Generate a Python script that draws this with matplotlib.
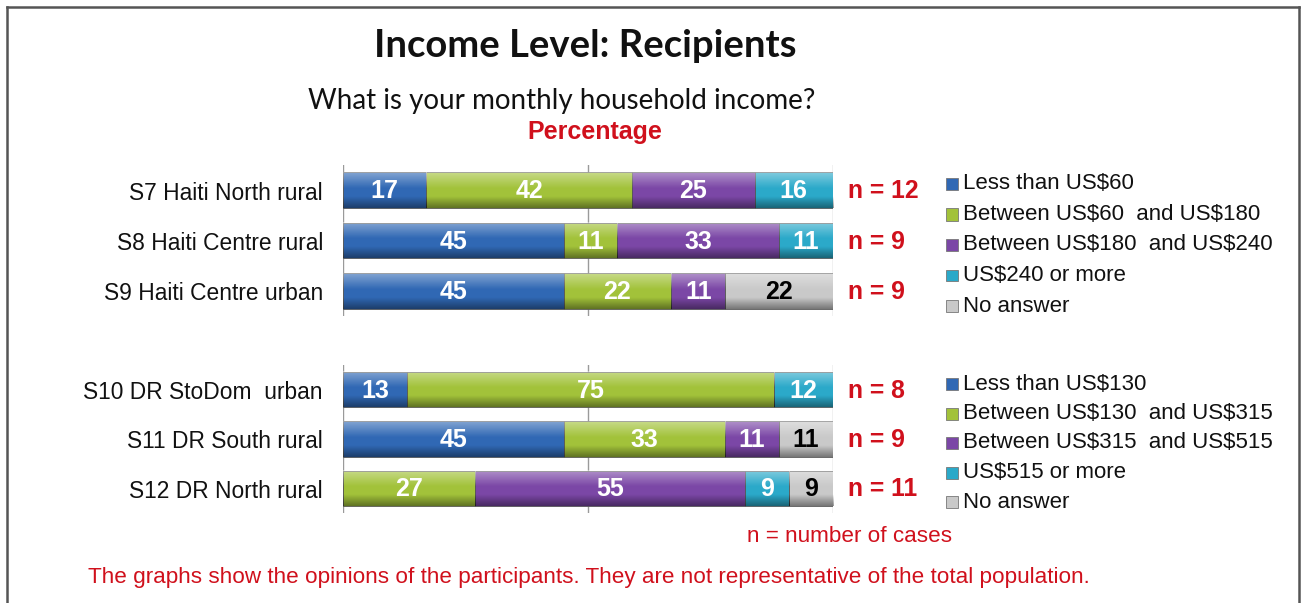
import matplotlib
matplotlib.use("Agg")
import matplotlib.pyplot as plt
import numpy as np
from matplotlib.patches import Rectangle
from matplotlib.lines import Line2D

# ---------------- data ----------------
haiti_sites = ["S7 Haiti North rural", "S8 Haiti Centre rural", "S9 Haiti Centre urban"]
haiti_n = [12, 9, 9]
haiti_lt60 = [17, 45, 45]
haiti_60_180 = [42, 11, 22]
haiti_180_240 = [25, 33, 11]
haiti_240_plus = [16, 11, 0]
haiti_no_answer = [0, 0, 22]
haiti_labels = ["Less than US$60", "Between US$60  and US$180",
                "Between US$180  and US$240", "US$240 or more", "No answer"]

dr_sites = ["S10 DR StoDom  urban", "S11 DR South rural", "S12 DR North rural"]
dr_n = [8, 9, 11]
dr_lt130 = [13, 45, 0]
dr_130_315 = [75, 33, 27]
dr_315_515 = [0, 11, 55]
dr_515_plus = [12, 0, 9]
dr_no_answer = [0, 11, 9]
dr_labels = ["Less than US$130", "Between US$130  and US$315",
             "Between US$315  and US$515", "US$515 or more", "No answer"]

# ---------------- style ----------------
colors = ["#3068B4", "#A2C23A", "#7B47A6", "#2BA9C9", "#C9C9C9"]
label_colors = ["white", "white", "white", "white", "black"]
red = "#D0101C"
W, H = 1303, 603
DPI = 100

fig = plt.figure(figsize=(W / DPI, H / DPI), dpi=DPI)
fig.patch.set_facecolor("white")


def fx(px):
    return px / W


def fy(py):
    return 1 - py / H


# frame around the slide
frame = dict(color="#555555", lw=1.8, transform=fig.transFigure)
fig.add_artist(Line2D([fx(7), fx(7)], [fy(7), fy(610)], **frame))
fig.add_artist(Line2D([fx(7), fx(1299)], [fy(7), fy(7)], **frame))
fig.add_artist(Line2D([fx(1299), fx(1299)], [fy(7), fy(610)], **frame))

# titles
fig.text(fx(585), fy(46), "Income Level: Recipients", ha="center", va="center",
         fontsize=27.5, fontweight="bold", family="Lato", color="#111111")
fig.text(fx(562), fy(101), "What is your monthly household income?", ha="center",
         va="center", fontsize=20, family="Lato", color="#111111")
fig.text(fx(595), fy(132), "Percentage", ha="center", va="center",
         fontsize=18, fontweight="bold", family="Liberation Sans", color=red)


def shade(ax, left, width, y, h):
    """Glossy bevel: light band on top, darker band at the bottom."""
    grad = np.zeros((40, 2, 4))
    t = np.linspace(0, 1, 40)
    top = np.clip(1 - t / 0.45, 0, 1) * 0.40
    bot = np.clip((t - 0.68) / 0.32, 0, 1) * 0.40
    grad[:, :, 0] = np.where(top[:, None] > 0, 1.0, 0.0)
    grad[:, :, 1] = grad[:, :, 0]
    grad[:, :, 2] = grad[:, :, 0]
    grad[:, :, 3] = (top + bot)[:, None]
    ax.imshow(grad, extent=(left, left + width, y + h / 2, y - h / 2),
              aspect="auto", interpolation="bilinear", zorder=3)


def draw_group(top_px, bot_px, sites, series, ns, labels, legend_top, legend_step):
    ax = fig.add_axes([fx(343), fy(bot_px), fx(833) - fx(343), fy(top_px) - fy(bot_px)])
    nrows = len(sites)
    ax.set_xlim(0, 100)
    ax.set_ylim(nrows - 0.5, -0.5)
    ax.axis("off")
    ax.set_autoscale_on(False)
    # vertical guides
    for xv, c in [(0, "#9A9A9A"), (50, "#9A9A9A"), (100, "#BBBBBB")]:
        ax.axvline(xv, color=c, lw=1.0, zorder=0)
    h = 0.71
    y = np.arange(nrows)
    left = np.zeros(nrows)
    for k, vals in enumerate(series):
        vals = np.asarray(vals, dtype=float)
        ax.barh(y, vals, left=left, height=h, color=colors[k],
                edgecolor="#555555", linewidth=0.6, zorder=2)
        for i in range(nrows):
            if vals[i] > 0:
                shade(ax, left[i], vals[i], y[i], h)
                ax.text(left[i] + vals[i] / 2, y[i] + 0.02, f"{vals[i]:.0f}",
                        ha="center", va="center", fontsize=18, fontweight="bold",
                        family="Liberation Sans", color=label_colors[k], zorder=4)
        left = left + vals
    for i in range(nrows):
        ax.text(-4.1, y[i] + 0.06, sites[i], ha="right", va="center", fontsize=16.4,
                family="Liberation Sans", color="#111111", clip_on=False)
        ax.text(103, y[i] + 0.02, f"n = {ns[i]}", ha="left", va="center",
                fontsize=17.8, fontweight="bold", family="Liberation Sans",
                color=red, clip_on=False)
    # legend
    for k, lab in enumerate(labels):
        yc = legend_top + k * legend_step
        fig.add_artist(Rectangle((fx(946), fy(yc + 6)), fx(12), fy(yc - 6) - fy(yc + 6),
                                 transform=fig.transFigure, facecolor=colors[k],
                                 edgecolor="#777777", lw=0.6))
        fig.text(fx(963), fy(yc), lab, ha="left", va="center", fontsize=16,
                 family="Liberation Sans", color="#111111", parse_math=False)


draw_group(165, 316, haiti_sites,
           [haiti_lt60, haiti_60_180, haiti_180_240, haiti_240_plus, haiti_no_answer],
           haiti_n, haiti_labels, 184, 30.5)
draw_group(365, 513, dr_sites,
           [dr_lt130, dr_130_315, dr_315_515, dr_515_plus, dr_no_answer],
           dr_n, dr_labels, 384, 29.5)

fig.text(fx(850), fy(537), "n = number of cases", ha="center", va="center",
         fontsize=16.2, family="Liberation Sans", color=red)
fig.text(fx(589), fy(577),
         "The graphs show the opinions of the participants. They are not representative of the total population.",
         ha="center", va="center", fontsize=16.2, family="Liberation Sans", color=red)

fig.savefig("out.png", dpi=DPI, facecolor="white")
